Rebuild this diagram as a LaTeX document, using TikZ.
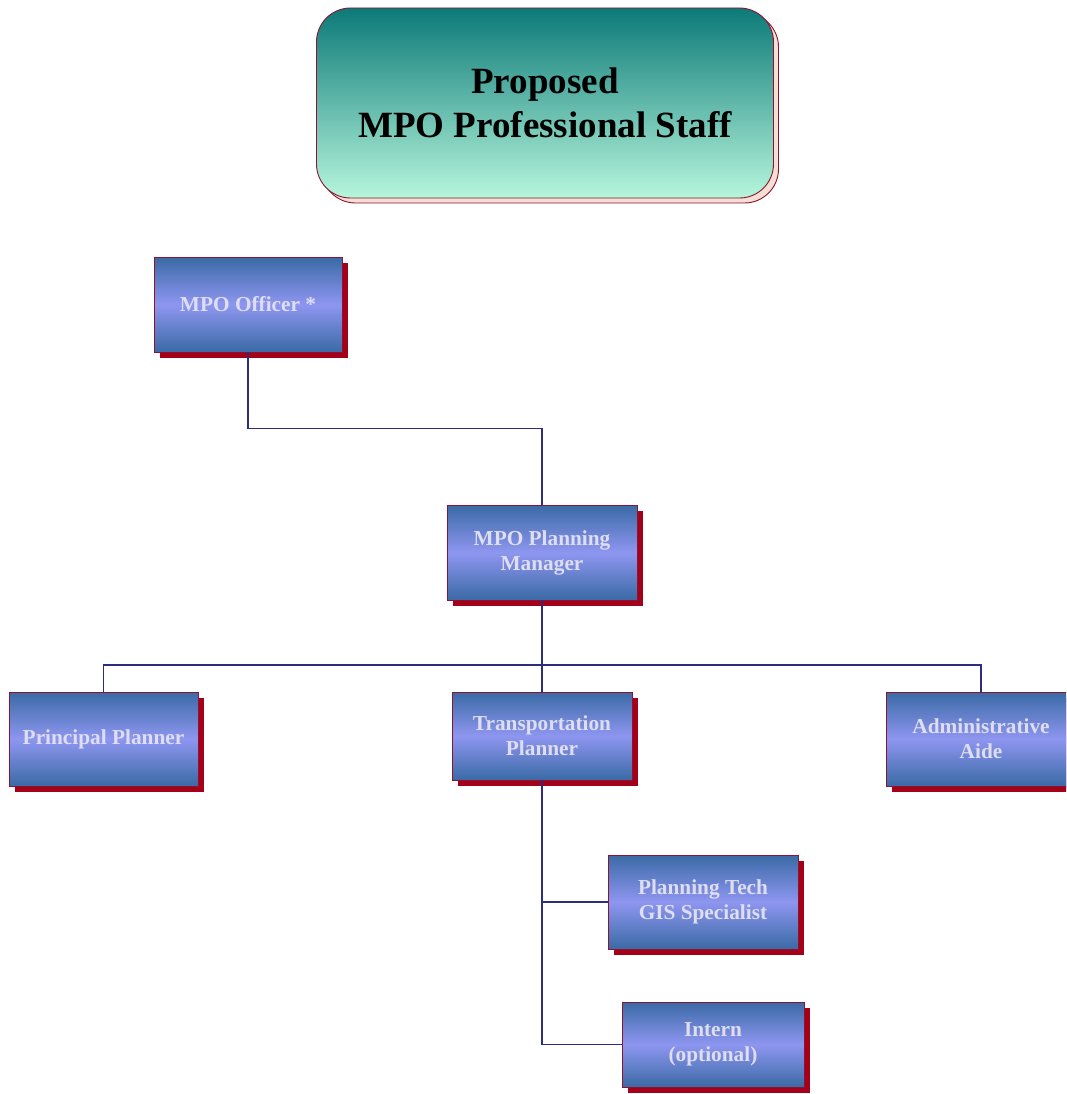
\documentclass[tikz,border=0pt]{standalone}
\usepackage{fontspec}
\setmainfont{Liberation Serif}
\usetikzlibrary{shadows}
\definecolor{boxdark}{RGB}{58,106,165}
\definecolor{boxlight}{RGB}{142,150,240}
\definecolor{boxtext}{RGB}{222,222,240}
\definecolor{shadowred}{RGB}{165,0,26}
\definecolor{borderred}{RGB}{140,20,50}
\definecolor{linecol}{RGB}{45,45,125}
\definecolor{tealtop}{RGB}{12,122,120}
\definecolor{tealbot}{RGB}{182,246,220}
\definecolor{titleshadow}{RGB}{245,222,212}
\tikzset{
  orgbox/.style={draw=borderred, line width=0.9pt, rectangle,
    top color=boxdark, bottom color=boxdark, middle color=boxlight,
    text=boxtext, font=\fontsize{21.3}{25}\selectfont\bfseries, align=center,
    inner sep=0pt,
    drop shadow={shadow xshift=6pt, shadow yshift=-6pt, fill=shadowred, opacity=1}},
  titlebox/.style={draw=borderred, line width=0.9pt, rounded corners=34pt,
    top color=tealtop, bottom color=tealbot, align=center,
    font=\fontsize{37}{44}\selectfont\bfseries, inner sep=0pt,
    drop shadow={shadow xshift=5pt, shadow yshift=-5pt, fill=titleshadow, draw=borderred, opacity=1}},
  conn/.style={draw=linecol, line width=1.4pt}
}
\begin{document}
\begin{tikzpicture}[x=1pt,y=-1pt]
\useasboundingbox (0,0) rectangle (1066,1094);
\clip (0,0) rectangle (1066,1094);
\fill[white] (0,0) rectangle (1066,1094);

\node[titlebox, minimum width=457pt, minimum height=190pt] (title) at (545,103) {Proposed\\MPO Professional Staff};

\node[orgbox, minimum width=188pt, minimum height=95pt] (off) at (248,304.5) {MPO Officer *};
\node[orgbox, minimum width=190pt, minimum height=95pt] (mgr) at (542,552.5) {MPO Planning\\Manager};
\node[orgbox, minimum width=189pt, minimum height=94pt] (prin) at (103.5,739) {Principal Planner};
\node[orgbox, minimum width=180pt, minimum height=88pt] (trans) at (542,736) {Transportation\\Planner};
\node[orgbox, minimum width=190pt, minimum height=94pt] (adm) at (981,739) {Administrative\\Aide};
\node[orgbox, minimum width=190pt, minimum height=94pt] (tech) at (703,902) {Planning Tech\\GIS Specialist};
\node[orgbox, minimum width=182pt, minimum height=85pt] (intern) at (713,1044.5) {Intern\\(optional)};

\coordinate (hbar) at (542,665);
\draw[conn] (off.south) -- ++(0,76) -| (mgr.north);
\draw[conn] (mgr.south) -- (trans.north);
\draw[conn] (prin.north) |- (hbar) -| (adm.north);
\draw[conn] (trans.south) |- (intern.west);
\draw[conn] (tech.west) -- (tech.west -| trans.south);
\end{tikzpicture}
\end{document}
